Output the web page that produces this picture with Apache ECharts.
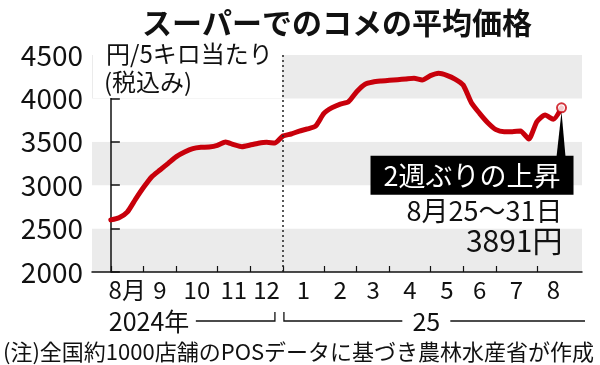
<!DOCTYPE html>
<html><head><meta charset="utf-8">
<script src="https://cdn.jsdelivr.net/npm/echarts@6/dist/echarts.min.js"></script>
<style>html,body{margin:0;padding:0;background:#fff}#c{width:600px;height:365px}</style>
</head><body><div id="c"></div>
<script>
// ---- data ----
const title = 'スーパーでのコメの平均価格';
const unitLabel = ['円/5キロ当たり', '(税込み)'];
const monthLabels = ['8月','9','10','11','12','1','2','3','4','5','6','7','8'];
const weeksPerMonth = [4,4,5,4,4,5,4,4,5,4,4,5,4];
const yearLabels = ['2024年', '25'];
const yTicks = [2000, 2500, 3000, 3500, 4000, 4500];
// weekly average price (yen / 5kg), Aug 2024 - Aug 25~31 2025
const prices = [
  2600, 2625, 2690, 2837, 2976, 3098, 3175, 3252, 3329, 3382,
  3421, 3436, 3440, 3459, 3498, 3467, 3444, 3463, 3483, 3494,
  3486, 3567, 3590, 3624, 3648, 3682, 3828, 3893, 3935, 3962,
  4077, 4162, 4189, 4200, 4208, 4216, 4224, 4232, 4212, 4262,
  4289, 4266, 4223, 4154, 3950, 3828, 3720, 3640, 3617, 3617,
  3624, 3532, 3732, 3809, 3759, 3891
];
const calloutTitle = '2週ぶりの上昇';
const calloutDate = '8月25〜31日';
const calloutValue = '3891円';
const footnote = '(注)全国約1000店舗のPOSデータに基づき農林水産省が作成';

// ---- derived ----
const monthStarts = [];
const monthCenters = [];
let acc = 0;
weeksPerMonth.forEach(n => { monthStarts.push(acc); monthCenters.push(acc + n / 2); acc += n; });
const yearBoundaryWeek = monthStarts[5];
const lastIdx = prices.length - 1;

const FONT = '"Noto Sans CJK JP", "Noto Sans", sans-serif';
const RED = '#c8000b';
const chart = echarts.init(document.getElementById('c'), null, {renderer: 'canvas'});

chart.setOption({
  animation: false,
  backgroundColor: '#fff',
  textStyle: {fontFamily: FONT},
  title: {
    text: title, left: 137, top: 3,
    textStyle: {fontFamily: FONT, fontSize: 30, fontWeight: 'bold', color: '#111'}
  },
  grid: {left: 92, right: 18, top: 55, bottom: 93},
  xAxis: {
    type: 'value', min: -2.3, max: 57.5,
    axisLine: {show: true, onZero: false, lineStyle: {color: '#111', width: 1.5}},
    axisTick: {show: true, inside: true, length: 6, customValues: monthStarts, lineStyle: {color: '#111', width: 1.2}},
    axisLabel: {
      show: true, customValues: monthCenters, margin: 6,
      fontFamily: FONT, fontSize: 24, color: '#111',
      formatter: v => { const i = monthCenters.indexOf(v); return i >= 0 ? monthLabels[i] : ''; }
    },
    splitLine: {show: false}
  },
  yAxis: {
    type: 'value', min: yTicks[0], max: yTicks[yTicks.length - 1], interval: 500,
    axisLine: {show: true, lineStyle: {color: '#111', width: 1.5}},
    axisTick: {show: true, inside: true, length: 9, lineStyle: {color: '#111', width: 1.5}},
    axisLabel: {fontFamily: FONT, fontSize: 28, color: '#111', margin: 9, formatter: v => String(v)},
    splitLine: {show: false},
    splitArea: {show: true, areaStyle: {color: ['#ebebeb', '#ffffff']}}
  },
  series: [
    {
      type: 'line',
      data: prices.map((v, i) => [i, v]),
      symbol: 'none',
      smooth: 0.2,
      lineStyle: {color: RED, width: 5, cap: 'round', join: 'round'},
      z: 3,
      markLine: {
        silent: true, symbol: 'none', label: {show: false},
        lineStyle: {color: '#222', type: [2, 3], width: 1.5},
        data: [{xAxis: yearBoundaryWeek}]
      }
    },
    {
      type: 'scatter',
      data: [[lastIdx, prices[lastIdx]]],
      symbol: 'circle', symbolSize: 9,
      itemStyle: {color: '#fff', borderColor: RED, borderWidth: 2},
      z: 5
    }
  ]
});

// ---- annotations positioned through the chart's own scales ----
const px = (w, v) => chart.convertToPixel({gridIndex: 0}, [w, v]);
const [lx, ly] = px(lastIdx, prices[lastIdx]);
const xLeft = px(-2.3, 2000)[0];
const xStart = px(0, 2000)[0];
const xBound = px(yearBoundaryWeek, 2000)[0];
const x25 = px(38.5, 2000)[0];
const xEnd = px(57.5, 2000)[0] + 3;
const topY = px(0, 4500)[1];
const rowY = 321;
const lineStyle = {stroke: '#111', lineWidth: 1.3};

chart.setOption({
  graphic: [
    // unit label
    {type: 'rect', shape: {x: xLeft + 1, y: topY, width: xBound - xLeft - 2, height: 43}, style: {fill: '#fff'}, z: 1},
    {type: 'text', x: 106, y: 42, style: {text: unitLabel[0], font: '24px ' + FONT, fill: '#111'}, z: 10},
    {type: 'text', x: 104, y: 70, style: {text: unitLabel[1], font: '24px ' + FONT, fill: '#111'}, z: 10},
    // year row
    {type: 'text', x: xStart - 2, y: rowY, style: {text: yearLabels[0], font: '25px ' + FONT, fill: '#111', verticalAlign: 'middle'}},
    {type: 'polyline', shape: {points: [[xStart + 85, rowY], [xBound - 8, rowY], [xBound - 8, rowY - 9]]}, style: lineStyle},
    {type: 'polyline', shape: {points: [[xBound + 1, rowY - 9], [xBound + 1, rowY], [x25 - 24, rowY]]}, style: lineStyle},
    {type: 'text', x: x25, y: rowY, style: {text: yearLabels[1], font: '25px ' + FONT, fill: '#111', align: 'center', verticalAlign: 'middle'}},
    {type: 'line', shape: {x1: x25 + 24, y1: rowY, x2: xEnd, y2: rowY}, style: lineStyle},
    // callout
    {type: 'polygon', shape: {points: [[lx, ly + 4], [lx - 5, ly + 49], [lx + 4, ly + 49]]}, style: {fill: '#000'}, z: 10},
    {type: 'rect', shape: {x: lx - 191, y: ly + 48, width: 203, height: 39}, style: {fill: '#000'}, z: 10},
    {type: 'text', x: lx - 89.5, y: ly + 67.5, style: {text: calloutTitle, font: '27px ' + FONT, fill: '#fff', align: 'center', verticalAlign: 'middle'}, z: 11},
    {type: 'text', x: lx + 1, y: ly + 103, style: {text: calloutDate, font: '27px ' + FONT, fill: '#111', align: 'right', verticalAlign: 'middle'}, z: 11},
    {type: 'text', x: lx + 1, y: ly + 133, style: {text: calloutValue, font: '30px ' + FONT, fill: '#111', align: 'right', verticalAlign: 'middle'}, z: 11},
    // footnote
    {type: 'text', x: 3, y: 352, style: {text: footnote, font: '22px ' + FONT, fill: '#111', verticalAlign: 'middle'}}
  ]
});
</script>
</body></html>
